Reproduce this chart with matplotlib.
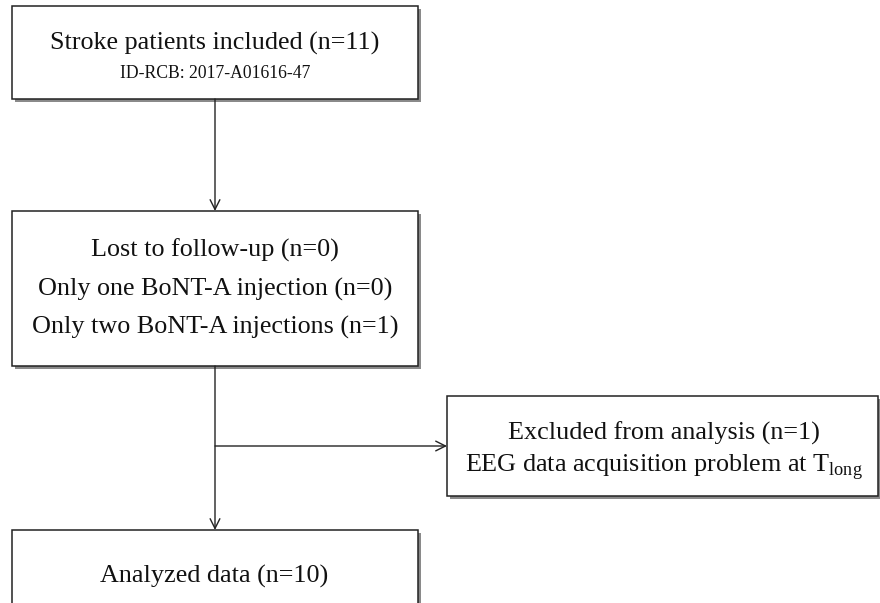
import matplotlib.pyplot as plt
from matplotlib.patches import Rectangle

plt.rcParams['font.family'] = ['Liberation Serif', 'DejaVu Serif']
plt.rcParams['mathtext.fontset'] = 'custom'
plt.rcParams['mathtext.rm'] = 'Liberation Serif'

# boxes: (left, top, right, bottom) in pixels
boxes = [
    (12, 6, 418, 99),
    (12, 211, 418, 366),
    (447, 396, 878, 496),
    (12, 530, 418, 610),
]

# text lines: (x, baseline y, text, size)
labels = [
    (215, 50, "Stroke patients included (n=11)", 18.8),
    (215, 78, "ID-RCB: 2017-A01616-47", 12.7),
    (215, 257, "Lost to follow-up (n=0)", 18.8),
    (215, 296, "Only one BoNT-A injection (n=0)", 18.8),
    (215, 334, "Only two BoNT-A injections (n=1)", 18.8),
    (664, 440, "Excluded from analysis (n=1)", 18.8),
    (664, 471, r"EEG data acquisition problem at T$_{\rm long}$", 18.8),
    (214, 583, "Analyzed data (n=10)", 18.8),
]

# arrows: (x0, y0, x1, y1)
arrows = [
    (215, 99, 215, 211),
    (215, 366, 215, 530),
    (215, 446, 447, 446),
]

fig = plt.figure(figsize=(8.8, 6.03), dpi=100)
ax = fig.add_axes([0, 0, 1, 1])
ax.set_xlim(0, 880)
ax.set_ylim(603, 0)
ax.axis('off')

for l, t, r, b in boxes:
    # drop shadow
    ax.add_patch(Rectangle((l + 2.5, t + 2.5), r - l, b - t, facecolor='#8a8a8a',
                           edgecolor='none', zorder=1))
    ax.add_patch(Rectangle((l, t), r - l, b - t, facecolor='white',
                           edgecolor='#222222', linewidth=1.1, zorder=2))

for x0, y0, x1, y1 in arrows:
    ax.annotate("", xy=(x1, y1), xytext=(x0, y0),
                arrowprops=dict(arrowstyle="->,head_length=0.7,head_width=0.35",
                                color='#222222', lw=1.0, shrinkA=0, shrinkB=0),
                zorder=3)

for x, y, s, fs in labels:
    ax.text(x, y, s, ha='center', va='baseline', fontsize=fs, color='#111111', zorder=4)

fig.savefig("out.png", dpi=100)
